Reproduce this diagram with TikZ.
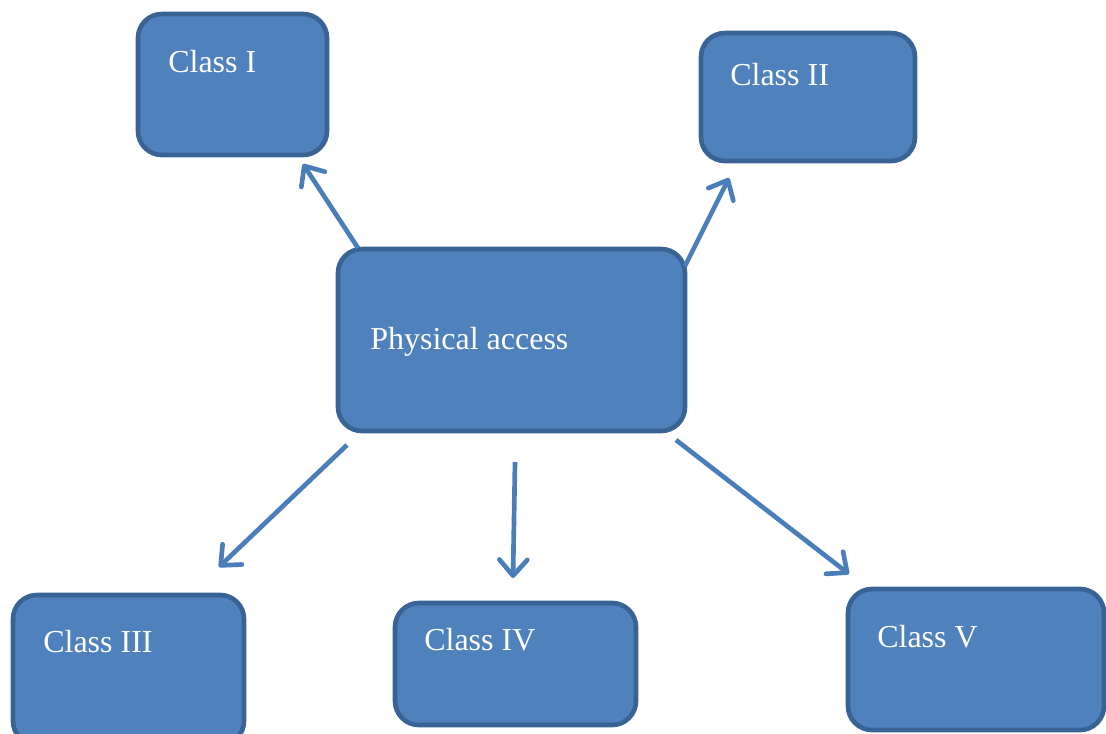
\documentclass[tikz,border=0pt]{standalone}
\usepackage{fontspec}
\setmainfont{Liberation Serif}
\usetikzlibrary{arrows.meta}

\definecolor{boxfill}{HTML}{4F81BD}
\definecolor{boxline}{HTML}{3A6395}
\definecolor{arrowblue}{HTML}{4A7EBB}

\begin{document}
\begin{tikzpicture}[x=0.75pt,y=-0.75pt]
    \useasboundingbox (0,0) rectangle (1106,733);

    \begin{scope}[every node/.style={rectangle,rounded corners=18pt,
          draw=boxline,line width=3.5pt,fill=boxfill,inner sep=0pt}]
      \node[minimum width=141.75pt,minimum height=105.75pt] (c1) at (232.5,84.5) {};
      \node[minimum width=160.5pt,minimum height=96pt] (c2) at (808,97) {};
      \node[minimum width=260.25pt,minimum height=136.5pt] (pa) at (511.5,340) {};
      \node[minimum width=173.25pt,minimum height=112.5pt] (c3) at (128.5,670) {};
      \node[minimum width=180.75pt,minimum height=91.5pt] (c4) at (515.5,664) {};
      \node[minimum width=192pt,minimum height=105.75pt] (c5) at (976,659.5) {};
    \end{scope}

    \begin{scope}[every node/.style={anchor=base west,inner sep=0pt,
          text=white,font=\fontsize{24}{28}\selectfont}]
      \node (t1) at (168,72) {Class I};
      \node (t2) at (730,85) {Class II};
      \node (tpa) at (370,349) {Physical access};
      \node (t3) at (43,652) {Class III};
      \node (t4) at (424,650) {Class IV};
      \node (t5) at (877,647) {Class V};
    \end{scope}

    % free ends of the arrows
    \coordinate (s1) at (358,248);  \coordinate (e1) at (303,164);
    \coordinate (s2) at (685,266);  \coordinate (e2) at (729,178);
    \coordinate (s3) at (347,445);  \coordinate (e3) at (219,567);
    \coordinate (s4) at (515,462);  \coordinate (e4) at (513,578);
    \coordinate (s5) at (676,440);  \coordinate (e5) at (849,574);

    \begin{scope}[>={Straight Barb[length=12pt,width=21pt,round]},
        every path/.style={draw=arrowblue,line width=3.5pt}]
      \path [->] (s1) -- (e1);
      \path [->] (s2) -- (e2);
      \path [->] (s3) -- (e3);
      \path [->] (s4) -- (e4);
      \path [->] (s5) -- (e5);
    \end{scope}
  \end{tikzpicture}
\end{document}
